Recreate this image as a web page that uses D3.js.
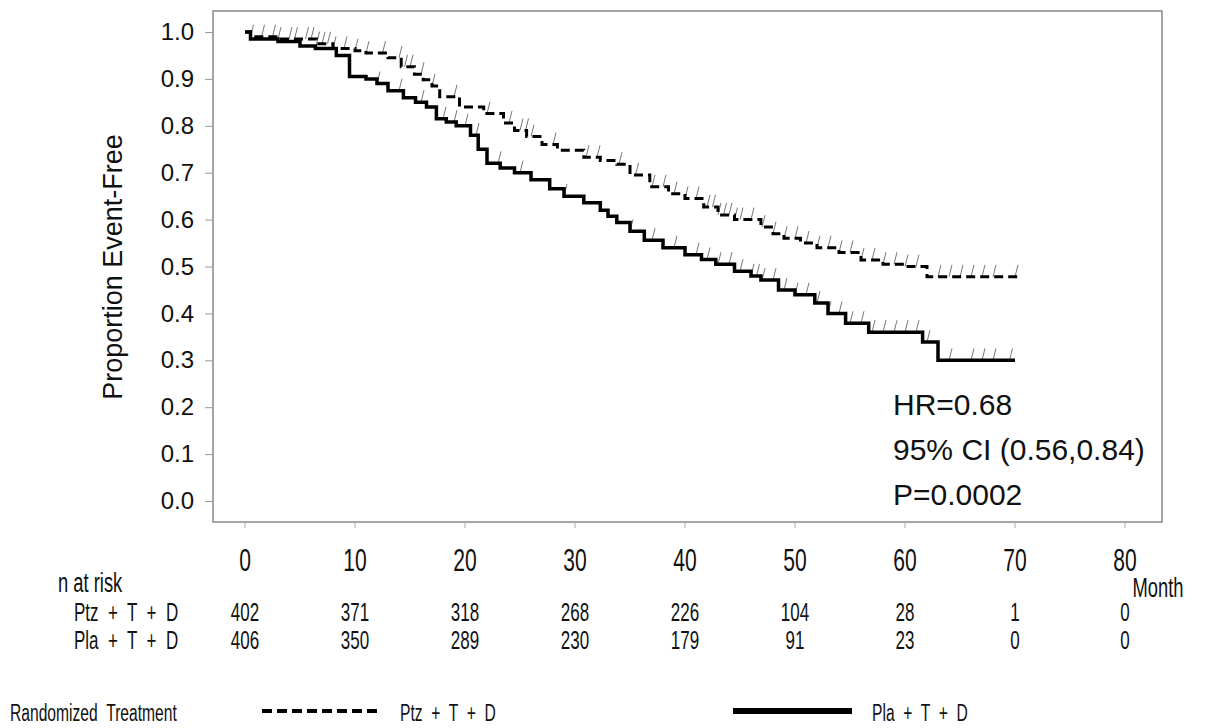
<!DOCTYPE html>
<html><head><meta charset="utf-8">
<script src="https://cdn.jsdelivr.net/npm/d3@7"></script>
<style>body{margin:0;background:#fff}svg{display:block}text{white-space:pre}</style></head><body>
<svg id="c" width="1205" height="728"></svg>
<script>
const xTicks=[0,10,20,30,40,50,60,70,80];
const yTicks=[0,0.1,0.2,0.3,0.4,0.5,0.6,0.7,0.8,0.9,1.0];
const ptzCurve=[[0,1],[0.5,0.99],[3,0.985],[6.5,0.975],[8,0.965],[10,0.96],[11,0.955],[13,0.945],[14.2,0.926],[15.4,0.91],[16.2,0.898],[17,0.885],[17.7,0.862],[19.5,0.84],[21.7,0.826],[23.5,0.806],[24.5,0.79],[25.6,0.777],[27,0.76],[28.4,0.748],[30.8,0.733],[32.3,0.726],[33.8,0.718],[35,0.695],[36.8,0.67],[38.5,0.655],[40,0.645],[41.7,0.627],[43,0.61],[44.5,0.6],[46.9,0.584],[48,0.57],[49,0.56],[50.5,0.55],[52,0.54],[54,0.53],[56,0.514],[58,0.505],[60,0.5],[62,0.478],[70.3,0.478]];
const plaCurve=[[0,1],[0.5,0.985],[3,0.98],[5,0.97],[6.4,0.965],[8.3,0.95],[9.5,0.905],[11,0.9],[12,0.89],[13,0.875],[14.4,0.86],[15.5,0.85],[16.5,0.84],[17.4,0.815],[18.3,0.808],[19.2,0.8],[20.5,0.78],[21.2,0.75],[22,0.72],[23.2,0.71],[24.5,0.7],[26,0.685],[27.7,0.666],[29,0.65],[30.8,0.636],[32.3,0.62],[33,0.607],[33.8,0.594],[35,0.575],[36.3,0.556],[38,0.54],[40,0.525],[41.5,0.515],[42.8,0.505],[44.5,0.49],[46,0.48],[46.9,0.471],[48.5,0.45],[50,0.44],[51.8,0.422],[53,0.4],[54.6,0.379],[56.7,0.36],[61.6,0.339],[63,0.3],[70,0.3]];
const ptzCensor=[0.5,1.5,2.5,3,4,4.5,5.5,6,6.5,7,7.5,8,9,10,11,12.5,14,14.5,15,16,17,19,22,24,25,25.5,26,28,31,32,34,35.5,37,38,39,40,41,42,42.5,43,43.5,44,44.5,45,46,47,48,49,50,51,52,53,54,55,56,57,58,59,60,61,63,64,65,66,67,68,70];
const plaCensor=[12,14,16,18,19,20,21,23,25,29,35,37,39,41,42,43,44,45,46,46.5,47,48,49,50,51,52,53,54,55,56,57,58,59,60,61,62,64,66,67,68,69.5];
const riskPtz=[402,371,318,268,226,104,28,1,0];
const riskPla=[406,350,289,230,179,91,23,0,0];
const stats=["HR=0.68","95% CI (0.56,0.84)","P=0.0002"];

const svg=d3.select("#c");
const FONT="Liberation Sans, Arial, sans-serif";
const x=d3.scaleLinear().domain([0,80]).range([245,1125]);
const y=d3.scaleLinear().domain([0,1]).range([501,32]);
const L=213,T=11,R=1162,B=522;
svg.append("rect").attr("x",L).attr("y",T).attr("width",R-L).attr("height",B-T).attr("fill","none").attr("stroke","#888").attr("stroke-width",1.5);
const ya=svg.append("g").attr("transform",`translate(${L},0)`).call(d3.axisLeft(y).tickValues(yTicks).tickFormat(d3.format(".1f")).tickSize(8).tickPadding(11));
ya.select(".domain").remove();
ya.selectAll("line").attr("stroke","#999");
ya.selectAll("text").style("font-family",FONT).style("font-size","24px").attr("fill","#111");

svg.append("g").selectAll("line").data(xTicks).join("line").attr("x1",d=>x(d)).attr("x2",d=>x(d)).attr("y1",B).attr("y2",B+6).attr("stroke","#aaa");

function nar(g,t,xx,yy,anchor,size){
  return g.append("text").attr("transform",`translate(${xx},${yy}) scale(0.68,1)`).attr("text-anchor",anchor||"start")
   .style("font-family",FONT).style("font-size",(size||26)+"px").attr("fill","#111").text(t);
}
xTicks.forEach(d=>nar(svg,d,x(d),571,"middle",31));

svg.append("text").attr("transform","translate(122,267) rotate(-90)").attr("text-anchor","middle").style("font-family",FONT).style("font-size","27px").attr("fill","#111").text("Proportion Event-Free");

const line=d3.line().x(d=>x(d[0])).y(d=>y(d[1])).curve(d3.curveStepAfter);
function stepAt(c,t){let v=c[0][1];for(const p of c){if(p[0]<=t)v=p[1];}return v;}
function censor(c,times){
  svg.append("g").selectAll("line").data(times).join("line")
   .attr("x1",d=>x(d)).attr("x2",d=>x(d)+3).attr("y1",d=>y(stepAt(c,d))).attr("y2",d=>y(stepAt(c,d))-12)
   .attr("stroke","#777").attr("stroke-width",1);
}
censor(ptzCurve,ptzCensor);censor(plaCurve,plaCensor);
svg.append("path").attr("d",line(ptzCurve)).attr("fill","none").attr("stroke","#000").attr("stroke-width",3).attr("stroke-dasharray","9,5");
svg.append("path").attr("d",line(plaCurve)).attr("fill","none").attr("stroke","#000").attr("stroke-width",3.5);

svg.append("g").selectAll("text").data(stats).join("text").attr("x",893).attr("y",(d,i)=>415+i*45)
 .style("font-family",FONT).style("font-size","30px").attr("fill","#111").text(d=>d);

nar(svg,"n at risk",58,592,"start",27);
nar(svg,"Month",1158,597,"middle",27);
nar(svg,"Ptz  +  T  +  D",74,621,"start",25);
nar(svg,"Pla  +  T  +  D",74,649,"start",25);
riskPtz.forEach((d,i)=>nar(svg,d,x(xTicks[i]),621,"middle",25));
riskPla.forEach((d,i)=>nar(svg,d,x(xTicks[i]),649,"middle",25));

nar(svg,"Randomized  Treatment",10,721,"start",23);
svg.append("line").attr("x1",262).attr("x2",381).attr("y1",711).attr("y2",711).attr("stroke","#000").attr("stroke-width",4).attr("stroke-dasharray","10,5");
nar(svg,"Ptz  +  T  +  D",400,721,"start",23);
svg.append("line").attr("x1",733).attr("x2",852).attr("y1",711).attr("y2",711).attr("stroke","#000").attr("stroke-width",6);
nar(svg,"Pla  +  T  +  D",872,721,"start",23);
</script></body></html>
